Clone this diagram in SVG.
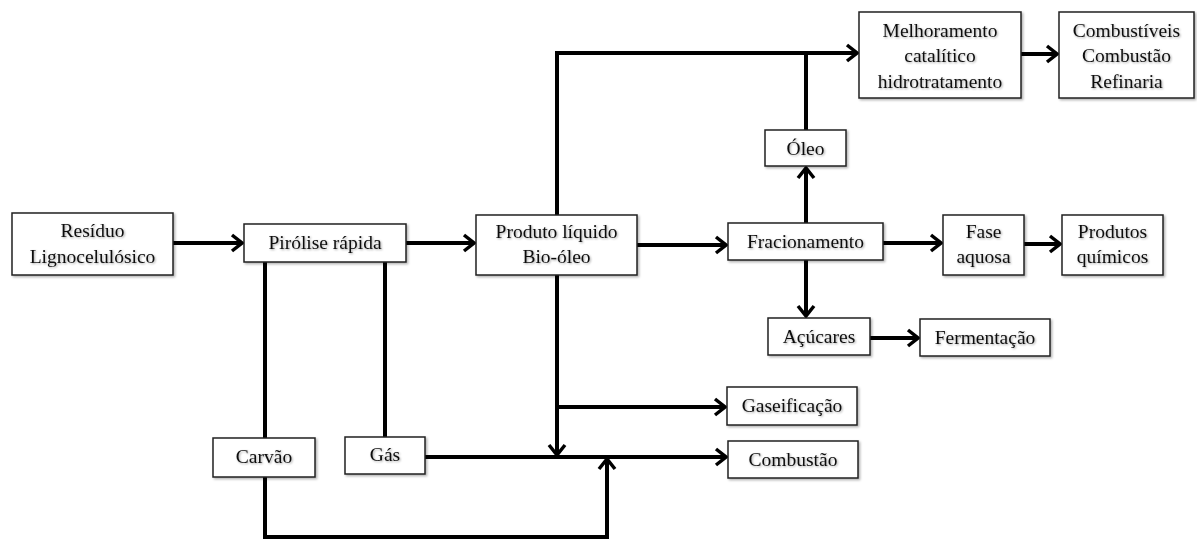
<svg xmlns="http://www.w3.org/2000/svg" width="1197" height="541" viewBox="0 0 1197 541">
<defs>
<style>
.box{fill:#fff;stroke:#222;stroke-width:1.5;filter:url(#sh)}
.t{font-family:"Liberation Serif","Times New Roman",serif;font-size:19.5px;fill:#111;text-anchor:middle;filter:url(#ts)}
.c{fill:none;stroke:#000;stroke-width:4}
.a{marker-end:url(#arr)}
</style>
<filter id="sh" x="-10%" y="-10%" width="130%" height="140%">
<feDropShadow dx="1.5" dy="1.5" stdDeviation="1.2" flood-color="#000" flood-opacity="0.3"/>
</filter>
<filter id="ts" x="-10%" y="-20%" width="120%" height="150%">
<feDropShadow dx="1" dy="1" stdDeviation="0.8" flood-color="#000" flood-opacity="0.35"/>
</filter>
<marker id="arr" viewBox="0 0 14 20" markerWidth="14" markerHeight="20" refX="12" refY="10" orient="auto" markerUnits="userSpaceOnUse">
<path d="M2,2 L12,10 L2,18" fill="none" stroke="#000" stroke-width="3.5" stroke-linejoin="miter"/>
</marker>
</defs>
<rect width="1197" height="541" fill="#fff"/>
<g id="connectors">
<path class="c a" d="M173,243 H242"/>
<path class="c a" d="M406,243 H474"/>
<path class="c a" d="M637,245 H726"/>
<path class="c a" d="M557,215 V53 H857"/>
<path class="c" d="M806,130 V53"/>
<path class="c a" d="M806,223 V168"/>
<path class="c a" d="M1021,54 H1057"/>
<path class="c a" d="M883,243 H941"/>
<path class="c a" d="M1024,244 H1060"/>
<path class="c a" d="M806,260 V316"/>
<path class="c a" d="M870,338 H918"/>
<path class="c" d="M265,262 V438"/>
<path class="c" d="M385,262 V437"/>
<path class="c a" d="M557,275 V455"/>
<path class="c a" d="M557,407 H725"/>
<path class="c a" d="M425,457 H726"/>
<path class="c a" d="M265,477 V537 H607 V459"/>
</g>
<g id="residuo"><rect class="box" x="12" y="213" width="161" height="62"/><text class="t" x="92.5" y="237">Resíduo</text><text class="t" x="92.5" y="263">Lignocelulósico</text></g>
<g id="pirolise"><rect class="box" x="244" y="224" width="162" height="38"/><text class="t" x="325" y="249">Pirólise rápida</text></g>
<g id="produto"><rect class="box" x="476" y="215" width="161" height="60"/><text class="t" x="556.5" y="238">Produto líquido</text><text class="t" x="556.5" y="263">Bio-óleo</text></g>
<g id="melhoramento"><rect class="box" x="859" y="12" width="162" height="86"/><text class="t" x="940" y="37">Melhoramento</text><text class="t" x="940" y="62">catalítico</text><text class="t" x="940" y="88">hidrotratamento</text></g>
<g id="combustiveis"><rect class="box" x="1059" y="12" width="135" height="86"/><text class="t" x="1126.5" y="37">Combustíveis</text><text class="t" x="1126.5" y="62">Combustão</text><text class="t" x="1126.5" y="88">Refinaria</text></g>
<g id="oleo"><rect class="box" x="765" y="130" width="81" height="36"/><text class="t" x="805.5" y="155">Óleo</text></g>
<g id="fracionamento"><rect class="box" x="728" y="223" width="155" height="37"/><text class="t" x="805.5" y="248">Fracionamento</text></g>
<g id="fase"><rect class="box" x="943" y="215" width="81" height="60"/><text class="t" x="983.5" y="238">Fase</text><text class="t" x="983.5" y="263">aquosa</text></g>
<g id="quimicos"><rect class="box" x="1062" y="215" width="101" height="60"/><text class="t" x="1112.5" y="238">Produtos</text><text class="t" x="1112.5" y="263">químicos</text></g>
<g id="acucares"><rect class="box" x="768" y="318" width="102" height="37"/><text class="t" x="819" y="343">Açúcares</text></g>
<g id="fermentacao"><rect class="box" x="920" y="319" width="130" height="37"/><text class="t" x="985" y="344">Fermentação</text></g>
<g id="gaseificacao"><rect class="box" x="727" y="387" width="130" height="38"/><text class="t" x="792" y="412">Gaseificação</text></g>
<g id="combustao"><rect class="box" x="728" y="441" width="130" height="37"/><text class="t" x="793" y="466">Combustão</text></g>
<g id="carvao"><rect class="box" x="213" y="438" width="102" height="39"/><text class="t" x="264" y="463">Carvão</text></g>
<g id="gas"><rect class="box" x="345" y="437" width="80" height="37"/><text class="t" x="385" y="461">Gás</text></g>
</svg>
